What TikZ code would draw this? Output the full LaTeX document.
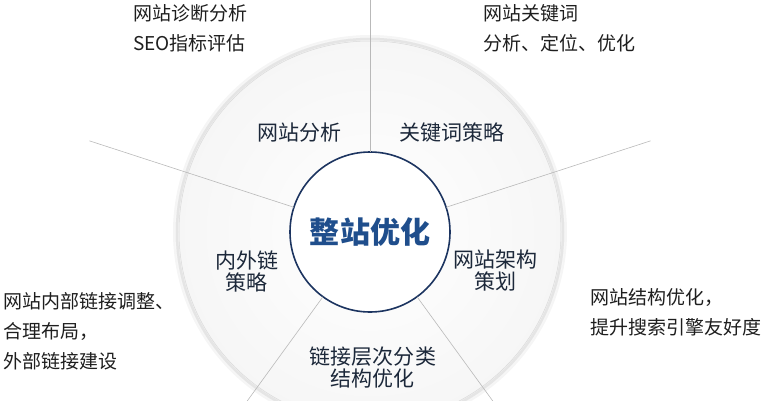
\documentclass[tikz,border=0pt]{standalone}
\usepackage{fontspec}
\setmainfont{Noto Sans CJK SC}
\usetikzlibrary{calc,shadings}
\definecolor{hubblue}{RGB}{31,78,140}
\definecolor{rimnavy}{RGB}{28,52,96}
\definecolor{labeldark}{RGB}{28,40,58}
\definecolor{notegray}{RGB}{30,30,30}

\begin{document}
\begin{tikzpicture}[x=1pt,y=1pt]
\tikzstyle{sector}=[text=labeldark,align=center,font=\fontsize{21}{22}\selectfont]
\tikzstyle{note}=[text=notegray,align=left,anchor=west,inner sep=0pt,font=\fontsize{19}{30}\selectfont]
\tikzstyle{divider}=[gray!55,line width=0.6pt]
\useasboundingbox (-370,-168) rectangle (395,232);
\clip (-370,-168) rectangle (395,232);
% outer disk
\shade[inner color=white,outer color=gray!7] (0,0) circle (195);
\draw[gray!8,line width=2pt] (0,0) circle (196);
\draw[gray!20,line width=2.5pt] (0,0) circle (193);
\draw[gray!30,line width=0.5pt] (0,0) circle (191);
% hub
\node[circle,minimum size=160pt,inner sep=0pt,outer sep=0pt,fill=white,
      draw=rimnavy,line width=1.6pt,text=hubblue,
      font=\fontsize{30}{31}\selectfont\bfseries] (hub) at (0,0) {整站优化};
% dividers
\foreach \a/\n in {90/t,18/tr,162/tl,234/bl,306/br}
  \coordinate (end\n) at (\a:295);
\foreach \a/\n in {90/t,18/tr,162/tl,234/bl,306/br}
  \draw[divider] (hub.\a) -- (end\n);
% sector labels
\node[sector] (analyse) at (-70,99) {网站分析};
\node[sector] (keyword) at (82,99) {关键词策略};
\node[sector] (links) at (-123,-39) {内外链\\策略};
\node[sector] (frame) at (125,-39) {网站架构\\策划};
\node[sector] (layers) at (3,-135) {链接层次分类\\结构优化};
% notes
\node[note] (noteA) at (-237,204) {网站诊断分析\\SEO指标评估};
\node[note] (noteK) at (113,204) {网站关键词\\分析、定位、优化};
\node[note] (noteL) at (-367,-99) {网站内部链接调整、\\合理布局，\\外部链接建设};
\node[note] (noteF) at (220,-80) {网站结构优化，\\提升搜索引擎友好度};
\end{tikzpicture}
\end{document}
